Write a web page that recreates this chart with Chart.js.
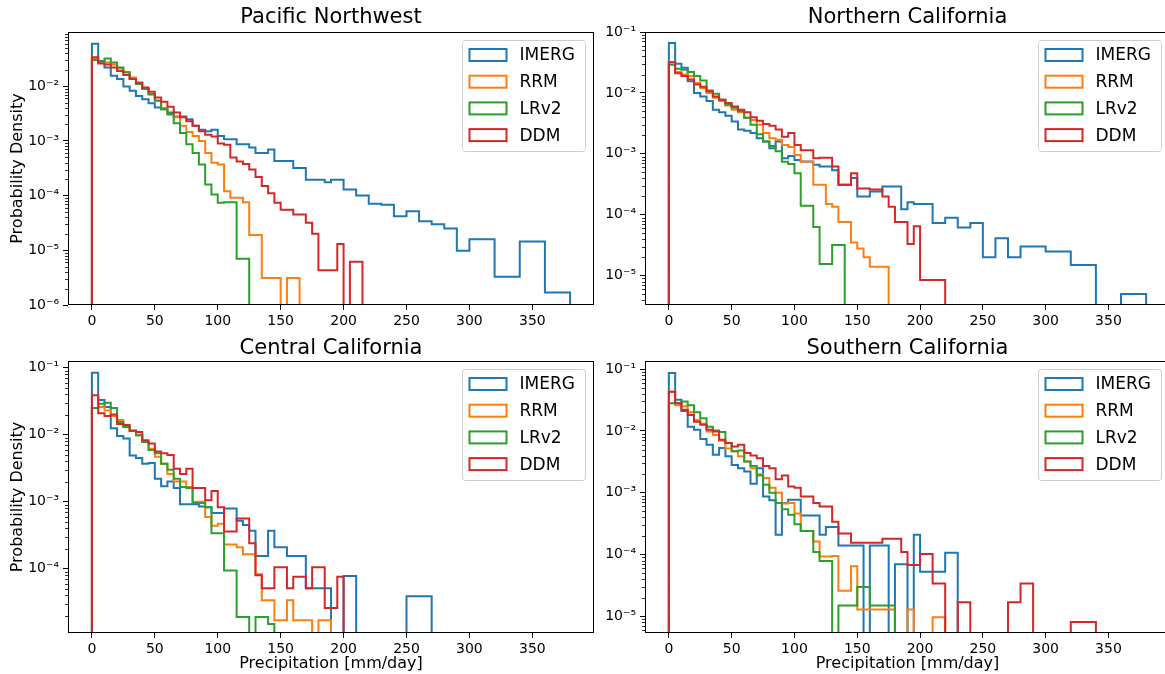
<!DOCTYPE html>
<html>
<head>
<meta charset="utf-8">
<script src="https://cdn.jsdelivr.net/npm/chart.js@4.4.1/dist/chart.umd.min.js"></script>
<style>
html, body { margin: 0; padding: 0; background: #fff; overflow: hidden; width: 1165px; height: 674px; }
.panel { position: absolute; }
</style>
</head>
<body>
<div class="panel" style="left:0;top:0;width:600px;height:337px"><canvas id="c0"></canvas></div>
<div class="panel" style="left:600px;top:0;width:570px;height:337px"><canvas id="c1"></canvas></div>
<div class="panel" style="left:0;top:337px;width:600px;height:337px"><canvas id="c2"></canvas></div>
<div class="panel" style="left:600px;top:337px;width:570px;height:337px"><canvas id="c3"></canvas></div>
<script>
// ======================
// DATA (probability density per 5 mm/day bin, starting at 0)
// ======================
const regions = ["Pacific Northwest", "Northern California", "Central California", "Southern California"];
const seriesNames = ["IMERG", "RRM", "LRv2", "DDM"];
const seriesColors = ["#1f77b4", "#ff7f0e", "#2ca02c", "#d62728"];
const binWidth = 5;
const xTicks = [0, 50, 100, 150, 200, 250, 300, 350];
const yMin = [1e-6, 3.3e-6, 1.1e-5, 5.4e-6];
const yMax = [0.098, 0.1, 0.126, 0.135];

const pnwImerg = [0.060, 0.029, 0.022, 0.0155, 0.0135, 0.0099, 0.0083, 0.0066, 0.0058, 0.0049,
  0.0041, 0.0038, 0.0033, 0.0028, 0.0028, 0.0025, 0.0019, 0.0016, 0.0015, 0.0016,
  0.00123, 0.00107, 0.00107, 0.00087, 0.00087, 0.00076, 0.00060, 0.00060, 0.00070, 0.00043,
  0.00043, 0.00043, 0.00032, 0.00032, 0.000195, 0.000195, 0.000195, 0.000175, 0.000195, 0.000195,
  0.00013, 0.00013, 0.00010, 0.00010, 7.1e-5, 7.1e-5, 6.8e-5, 6.8e-5, 4.2e-5, 4.2e-5,
  5.2e-5, 5.2e-5, 3.4e-5, 3.4e-5, 3.0e-5, 3.0e-5, 2.5e-5, 2.5e-5, 9.8e-6, 9.8e-6,
  1.6e-5, 1.6e-5, 1.6e-5, 1.6e-5, 3.3e-6, 3.3e-6, 3.3e-6, 3.3e-6, 1.45e-5, 1.45e-5,
  1.45e-5, 1.45e-5, 1.7e-6, 1.7e-6, 1.7e-6, 1.7e-6];
const pnwRrm = [0.032, 0.027, 0.027, 0.025, 0.021, 0.018, 0.0145, 0.0118, 0.0090, 0.0070,
  0.0055, 0.0040, 0.0030, 0.0027, 0.0019, 0.00145, 0.00123, 0.0010, 0.0006, 0.0004,
  0.00037, 0.00012, 9.1e-5, 9.1e-5, 7.6e-5, 1.9e-5, 1.9e-5, 3.1e-6, 3.1e-6, 3.1e-6,
  0, 3.1e-6, 3.1e-6];
const pnwLrv2 = [0.030, 0.028, 0.032, 0.027, 0.022, 0.018, 0.0135, 0.011, 0.0089, 0.0072,
  0.0054, 0.0038, 0.0031, 0.0021, 0.0014, 0.00087, 0.0006, 0.00037, 0.00016, 0.000105,
  7.4e-5, 7.6e-5, 7.6e-5, 7e-6, 7e-6];
const pnwDdm = [0.034, 0.026, 0.025, 0.022, 0.019, 0.016, 0.0135, 0.0115, 0.0095, 0.0079,
  0.0062, 0.0052, 0.0042, 0.0033, 0.0027, 0.0023, 0.0019, 0.0015, 0.0013, 0.0012,
  0.00090, 0.00085, 0.00050, 0.00042, 0.00038, 0.00030, 0.00022, 0.00015, 0.00011, 7.4e-5,
  5.5e-5, 5.5e-5, 4.5e-5, 4.5e-5, 3.2e-5, 2.0e-5, 4.3e-6, 4.3e-6, 4.3e-6, 1.3e-5,
  0, 6.2e-6, 6.2e-6];

const ncaImerg = [0.066, 0.030, 0.026, 0.0155, 0.0100, 0.0087, 0.0074, 0.0053, 0.0048, 0.0042,
  0.0034, 0.0025, 0.0024, 0.0022, 0.0018, 0.0016, 0.00123, 0.0016, 0.00085, 0.00092,
  0.00079, 0.00075, 0.00075, 0.00066, 0.00062, 0.00062, 0.00054, 0.00031, 0.00031, 0.00040,
  0.00020, 0.00020, 0.00024, 0.00024, 0.00029, 0.00029, 0.00029, 0.000123, 0.00016, 0.00015,
  0.00015, 0.00015, 7.3e-5, 7.3e-5, 8.9e-5, 8.9e-5, 6.2e-5, 6.2e-5, 7.3e-5, 7.3e-5,
  2.0e-5, 2.0e-5, 4.1e-5, 4.1e-5, 2.0e-5, 2.0e-5, 3.0e-5, 3.0e-5, 3.0e-5, 3.0e-5,
  2.5e-5, 2.5e-5, 2.5e-5, 2.5e-5, 1.5e-5, 1.5e-5, 1.5e-5, 1.5e-5, 0, 0,
  0, 0, 5.0e-6, 5.0e-6, 5.0e-6, 5.0e-6];
const ncaRrm = [0.032, 0.022, 0.020, 0.019, 0.0145, 0.012, 0.010, 0.0083, 0.0073, 0.0062,
  0.0053, 0.0048, 0.0039, 0.0036, 0.0030, 0.0022, 0.0018, 0.0017, 0.0014, 0.0013,
  0.00096, 0.00074, 0.00074, 0.00031, 0.00031, 0.00015, 0.000135, 7.6e-5, 7.6e-5, 3.5e-5,
  2.8e-5, 2.0e-5, 1.4e-5, 1.4e-5, 1.4e-5];
const ncaLrv2 = [0.029, 0.025, 0.024, 0.022, 0.019, 0.016, 0.011, 0.0097, 0.0077, 0.0064,
  0.0057, 0.0050, 0.0039, 0.0030, 0.0021, 0.0016, 0.00135, 0.0011, 0.00074, 0.00068,
  0.00048, 0.00014, 0.00014, 6.3e-5, 1.55e-5, 1.55e-5, 3.2e-5, 3.2e-5];
const ncaDdm = [0.032, 0.021, 0.019, 0.0166, 0.0137, 0.0126, 0.0107, 0.0087, 0.0077, 0.0068,
  0.0060, 0.0053, 0.0048, 0.0040, 0.0035, 0.0031, 0.0029, 0.0025, 0.0019, 0.0022,
  0.0014, 0.00115, 0.00115, 0.00085, 0.00086, 0.00086, 0.00062, 0.00031, 0.00031, 0.00048,
  0.00027, 0.00027, 0.00026, 0.00026, 0.00020, 0.000135, 7.6e-5, 7.6e-5, 3.3e-5, 6.5e-5,
  8.5e-6, 8.5e-6, 8.5e-6, 8.5e-6];

const ccaImerg = [0.084, 0.033, 0.026, 0.0125, 0.0096, 0.0088, 0.0049, 0.0045, 0.0037, 0.0038,
  0.0022, 0.0017, 0.0020, 0.0016, 0.00092, 0.00092, 0.00092, 0.00085, 0.00083, 0.00068,
  0.00068, 0.00079, 0.00079, 0.00052, 0.00045, 0.00037, 0.000155, 0.000155, 0.00037, 0.00021,
  0.00021, 0.000155, 0.000155, 0.000155, 5.1e-5, 5.1e-5, 5.1e-5, 5.1e-5, 0, 0,
  7.8e-5, 7.8e-5, 0, 0, 0, 0, 0, 0, 0, 0,
  3.9e-5, 3.9e-5, 3.9e-5, 3.9e-5];
const ccaRrm = [0.025, 0.026, 0.023, 0.019, 0.0166, 0.013, 0.0115, 0.0098, 0.0078, 0.0062,
  0.0047, 0.0037, 0.0026, 0.0020, 0.0020, 0.00166, 0.0010, 0.0010, 0.00059, 0.00044,
  0.00047, 0.00023, 0.00023, 0.00021, 0.000165, 0.000165, 8.3e-5, 3.4e-5, 3.4e-5, 1.7e-5,
  1.7e-5, 3.4e-5, 1.7e-5, 1.7e-5, 1.7e-5, 0, 1.7e-5, 1.7e-5];
const ccaLrv2 = [0.025, 0.029, 0.030, 0.025, 0.0155, 0.013, 0.0115, 0.0098, 0.0078, 0.0059,
  0.0053, 0.0037, 0.0030, 0.0022, 0.00166, 0.0016, 0.00096, 0.00096, 0.00083, 0.00034,
  0.00034, 9.4e-5, 9.4e-5, 1.9e-5, 1.9e-5, 0, 1.9e-5, 1.9e-5, 1.5e-5];
const ccaDdm = [0.039, 0.021, 0.019, 0.020, 0.0145, 0.014, 0.0115, 0.011, 0.0083, 0.0074,
  0.0056, 0.0053, 0.0050, 0.0031, 0.0026, 0.0031, 0.0016, 0.0016, 0.00105, 0.00145,
  0.00083, 0.00036, 0.00036, 0.00056, 0.00056, 0.00024, 8.0e-5, 5.1e-5, 5.1e-5, 1.05e-4,
  1.05e-4, 5.1e-5, 7.6e-5, 7.6e-5, 5.1e-5, 1.05e-4, 1.05e-4, 2.6e-5, 2.6e-5, 7.6e-5];

const scaImerg = [0.086, 0.032, 0.021, 0.0117, 0.0104, 0.0074, 0.0060, 0.0041, 0.0053, 0.0039,
  0.0028, 0.0025, 0.0022, 0.0014, 0.0025, 0.00087, 0.00076, 0.00021, 0.00068, 0.00077,
  0.00077, 0.00043, 0.00043, 0.00043, 0.00021, 0.00028, 0.00028, 0.00014, 0.00014, 0.00014,
  0.00014, 0, 0.00014, 0.00014, 0.00014, 0, 7.0e-5, 7.0e-5, 0, 2.1e-4,
  5.3e-5, 5.3e-5, 5.3e-5, 5.3e-5, 1.07e-4, 1.07e-4];
const scaRrm = [0.043, 0.026, 0.025, 0.020, 0.015, 0.013, 0.0098, 0.0086, 0.0069, 0.0052,
  0.0047, 0.0039, 0.0032, 0.0025, 0.0020, 0.00173, 0.0012, 0.0010, 0.00067, 0.00068,
  0.00046, 0.00024, 0.00024, 0.000163, 9.3e-5, 9.3e-5, 9.5e-5, 2.6e-5, 2.6e-5, 6.5e-5,
  1.3e-5, 1.3e-5, 1.3e-5, 1.3e-5, 1.3e-5, 1.3e-5, 0, 0, 1.3e-5, 0,
  0, 0, 9.7e-6, 9.7e-6];
const scaLrv2 = [0.028, 0.028, 0.030, 0.026, 0.020, 0.016, 0.0117, 0.0102, 0.0096, 0.0064,
  0.0047, 0.0048, 0.0032, 0.0027, 0.0019, 0.00135, 0.0010, 0.00068, 0.00054, 0.00044,
  0.00031, 0.00024, 0.00024, 0.00011, 7.9e-5, 7.9e-5, 0, 1.5e-5, 1.5e-5, 1.5e-5,
  3.0e-5, 3.0e-5, 1.5e-5, 1.5e-5, 1.5e-5, 1.5e-5];
const scaDdm = [0.043, 0.028, 0.022, 0.018, 0.014, 0.0126, 0.0104, 0.0098, 0.0072, 0.0064,
  0.0056, 0.0060, 0.0044, 0.0040, 0.0036, 0.0027, 0.0025, 0.00166, 0.0019, 0.00126,
  0.0012, 0.00087, 0.00087, 0.00068, 0.00060, 0.00060, 0.00034, 0.00022, 0.00022, 0.000155,
  0.000155, 0.000155, 0.000155, 0.000155, 0.00018, 0.00018, 0.00018, 0.00011, 6.8e-5, 6.8e-5,
  1.02e-4, 1.02e-4, 3.4e-5, 3.4e-5, 0, 0, 1.7e-5, 1.7e-5, 0, 0,
  0, 0, 0, 0, 1.7e-5, 1.7e-5, 3.4e-5, 3.4e-5, 0, 0,
  0, 0, 0, 0, 8.1e-6, 8.1e-6, 8.1e-6, 8.1e-6];

const panelSeries = [
    [pnwImerg, pnwRrm, pnwLrv2, pnwDdm],
    [ncaImerg, ncaRrm, ncaLrv2, ncaDdm],
    [ccaImerg, ccaRrm, ccaLrv2, ccaDdm],
    [scaImerg, scaRrm, scaLrv2, scaDdm]
];

// ======================
// HELPERS
// ======================
const FONT = "DejaVu Sans";
const OFF_AXIS = 1e-12; // empty bins fall below the axis, like matplotlib
const SUP = {"-": "\u207B", "0": "\u2070", "1": "\u00B9", "2": "\u00B2", "3": "\u00B3",
    "4": "\u2074", "5": "\u2075", "6": "\u2076", "7": "\u2077", "8": "\u2078", "9": "\u2079"};

function logLabel(v) {
    const e = Math.log10(v);
    const r = Math.round(e);
    if (Math.abs(e - r) > 1e-6) return "";
    return "10" + String(r).split("").map(c => SUP[c]).join("");
}

// outline of a step histogram
function stepPoints(values) {
    const pts = [{x: 0, y: OFF_AXIS}];
    values.forEach((v, i) => pts.push({x: i * binWidth, y: v > 0 ? v : OFF_AXIS}));
    pts.push({x: values.length * binWidth, y: OFF_AXIS});
    return pts;
}

const decor = {
    id: "decor",
    afterDraw(chart) {
        const {ctx, chartArea: a} = chart;
        const ys = chart.scales.y;
        ctx.save();

        // minor log ticks
        ctx.strokeStyle = "#000";
        ctx.lineWidth = 0.8;
        ctx.beginPath();
        for (let e = Math.floor(Math.log10(ys.min)); e <= Math.ceil(Math.log10(ys.max)); e++) {
            for (let m = 2; m < 10; m++) {
                const v = m * Math.pow(10, e);
                if (v < ys.min || v > ys.max) continue;
                const py = Math.round(ys.getPixelForValue(v)) + 0.5;
                ctx.moveTo(a.left - 3, py);
                ctx.lineTo(a.left, py);
            }
        }
        ctx.stroke();

        // frame
        ctx.lineWidth = 1;
        ctx.strokeStyle = "#000";
        ctx.strokeRect(Math.round(a.left) + 0.5, Math.round(a.top) + 0.5,
            Math.round(a.right - a.left) - 1, Math.round(a.bottom - a.top) - 1);

        // legend, upper right
        const w = 123, h = 111;
        const bx = a.right - 8.5 - w, by = a.top + 8.5;
        ctx.fillStyle = "rgba(255,255,255,0.8)";
        ctx.strokeStyle = "#cccccc";
        ctx.beginPath();
        ctx.roundRect(bx, by, w, h, 3);
        ctx.fill();
        ctx.stroke();
        ctx.font = "17px '" + FONT + "'";
        ctx.textBaseline = "middle";
        ctx.textAlign = "left";
        chart.data.datasets.forEach((ds, i) => {
            const cy = by + 14.5 + i * 26.7;
            ctx.strokeStyle = ds.borderColor;
            ctx.lineWidth = 2;
            ctx.strokeRect(bx + 7, cy - 6, 37, 12);
            ctx.fillStyle = "#000";
            ctx.fillText(ds.label, bx + 57, cy + 1);
        });
        ctx.restore();
    }
};

// ======================
// BUILD PANELS
// ======================
function makePanel(i) {
    const isLeft = i % 2 === 0;
    const isBottom = i >= 2;

    return new Chart(document.getElementById("c" + i), {
        type: "line",
        data: {
            datasets: panelSeries[i].map((vals, k) => ({
                label: seriesNames[k],
                data: stepPoints(vals),
                borderColor: seriesColors[k],
                borderWidth: 2,
                stepped: "before",
                pointRadius: 0,
                fill: false,
                order: 3 - k
            }))
        },
        options: {
            responsive: true,
            maintainAspectRatio: false,
            animation: false,
            devicePixelRatio: 1,
            events: [],
            layout: {padding: {left: 0, right: isLeft ? 6 : 0, top: 0, bottom: 0}},
            plugins: {
                legend: {display: false},
                tooltip: {enabled: false},
                title: {
                    display: true,
                    text: regions[i],
                    fullSize: false,
                    color: "#000",
                    font: {family: FONT, size: 21, weight: "normal", lineHeight: 24 / 21},
                    padding: isBottom ? {top: 0, bottom: 0} : {top: 6, bottom: 2}
                }
            },
            scales: {
                x: {
                    type: "linear",
                    min: -19,
                    max: 399,
                    afterBuildTicks: s => { s.ticks = xTicks.map(v => ({value: v})); },
                    afterFit: s => { s.height = isBottom ? 41 : 32; },
                    grid: {drawOnChartArea: false, drawTicks: true, tickLength: 5, color: "#000", lineWidth: 1},
                    border: {display: false},
                    ticks: {color: "#000", font: {family: FONT, size: 14}, padding: 3, maxRotation: 0, autoSkip: false},
                    title: {
                        display: isBottom,
                        text: "Precipitation [mm/day]",
                        color: "#000",
                        font: {family: FONT, size: 16},
                        padding: {top: 0, bottom: 1}
                    }
                },
                y: {
                    type: "logarithmic",
                    min: yMin[i],
                    max: yMax[i],
                    afterBuildTicks: s => {
                        const lo = Math.ceil(Math.log10(s.min) - 1e-9);
                        const hi = Math.floor(Math.log10(s.max) + 1e-9);
                        const t = [];
                        for (let e = lo; e <= hi; e++) t.push({value: Math.pow(10, e), major: true});
                        s.ticks = t;
                    },
                    afterFit: s => { s.width = isLeft ? 68 : 45; },
                    grid: {drawOnChartArea: false, drawTicks: true, tickLength: 5, color: "#000", lineWidth: 1},
                    border: {display: false},
                    ticks: {color: "#000", font: {family: FONT, size: 14}, padding: 4, autoSkip: false,
                        callback: v => logLabel(v)},
                    title: {
                        display: isLeft,
                        text: "Probability Density",
                        color: "#000",
                        font: {family: FONT, size: 16},
                        padding: {top: 8, bottom: 0}
                    }
                }
            }
        },
        plugins: [decor]
    });
}

[0, 1, 2, 3].forEach(makePanel);
</script>
</body>
</html>
